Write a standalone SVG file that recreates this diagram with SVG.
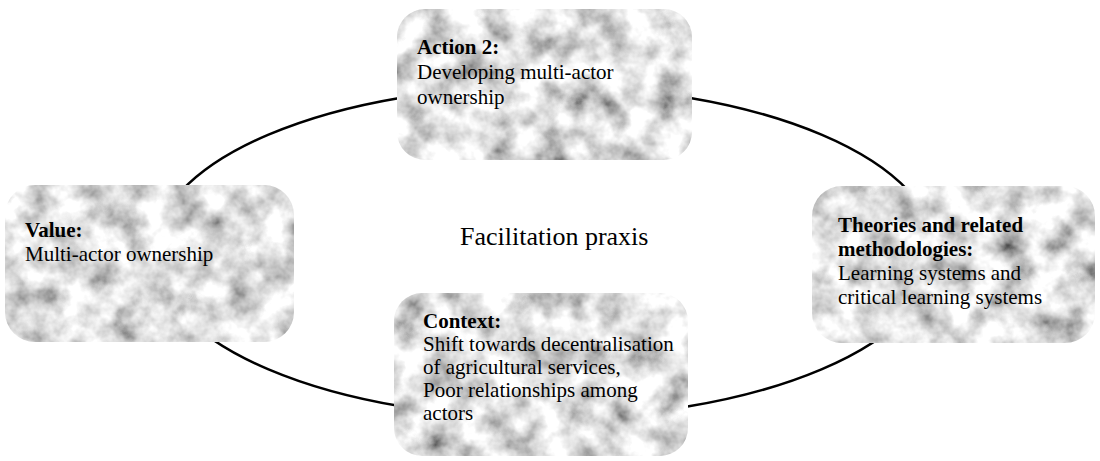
<svg xmlns="http://www.w3.org/2000/svg" width="1100" height="461" viewBox="0 0 1100 461">
  <defs>
    <filter id="mottle" x="0" y="0" width="100%" height="100%">
      <feTurbulence type="fractalNoise" baseFrequency="0.035" numOctaves="4" seed="7" result="n"/>
      <feColorMatrix in="n" type="matrix" values="1.5 0 0 0 0.0  1.5 0 0 0 0.0  1.5 0 0 0 0.0  0 0 0 0 1" result="g"/>
      <feComposite in="g" in2="SourceGraphic" operator="in"/>
    </filter>
    <style>
      .box { fill: #000; filter: url(#mottle); }
      .t { font-family: "Liberation Serif", "Times New Roman", serif; font-size: 21px; fill: #000; }
      .b { font-weight: bold; }
      .conn { fill: none; stroke: #000; stroke-width: 2.5; }
      .title { font-family: "Liberation Serif", "Times New Roman", serif; font-size: 26px; fill: #000; }
    </style>
  </defs>
  <rect width="1100" height="461" fill="#fff"/>
  <g id="connectors">
    <ellipse class="conn" cx="545" cy="252" rx="391" ry="166"/>
  </g>
  <g id="center-label">
    <text class="title" x="460" y="245">Facilitation praxis</text>
  </g>
  <g id="node-action">
    <rect class="box" x="397" y="9" width="295" height="151" rx="28"/>
    <text class="t" x="417" y="54"><tspan class="b">Action 2:</tspan><tspan x="417" dy="25">Developing multi-actor</tspan><tspan x="417" dy="25">ownership</tspan></text>
  </g>
  <g id="node-value">
    <rect class="box" x="5" y="185" width="289" height="157" rx="30"/>
    <text class="t" x="25" y="237"><tspan class="b">Value:</tspan><tspan x="25" dy="24">Multi-actor ownership</tspan></text>
  </g>
  <g id="node-theories">
    <rect class="box" x="812" y="186" width="283" height="157" rx="30"/>
    <text class="t" x="838" y="232"><tspan class="b">Theories and related</tspan><tspan class="b" x="838" dy="24">methodologies:</tspan><tspan x="838" dy="24">Learning systems and</tspan><tspan x="838" dy="24">critical learning systems</tspan></text>
  </g>
  <g id="node-context">
    <rect class="box" x="394" y="293" width="294" height="163" rx="28"/>
    <text class="t" x="423" y="328"><tspan class="b">Context:</tspan><tspan x="423" dy="23">Shift towards decentralisation</tspan><tspan x="423" dy="23">of agricultural services,</tspan><tspan x="423" dy="23">Poor relationships among</tspan><tspan x="423" dy="23">actors</tspan></text>
  </g>
</svg>
